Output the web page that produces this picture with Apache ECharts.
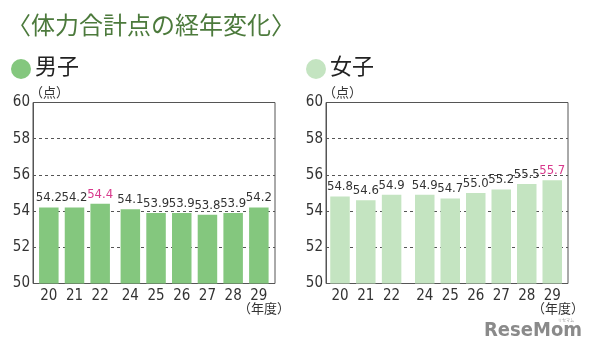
<!DOCTYPE html>
<html><head><meta charset="utf-8">
<script src="https://cdn.jsdelivr.net/npm/echarts@6/dist/echarts.min.js"></script>
<style>html,body{margin:0;padding:0;background:#fff}#c{width:591px;height:353px}</style>
</head><body><div id="c"></div>
<script>
const yearsA = ['20','21','22'];
const yearsB = ['24','25','26','27','28','29'];
const boysA = [54.2, 54.2, 54.4];
const boysB = [54.1, 53.9, 53.9, 53.8, 53.9, 54.2];
const girlsA = [54.8, 54.6, 54.9];
const girlsB = [54.9, 54.7, 55.0, 55.2, 55.5, 55.7];
const highlightBoys = '22';
const highlightGirls = '29';
const yTicks = [50, 52, 54, 56, 58, 60];

const FONT = "'DejaVu Sans Condensed','Liberation Sans',sans-serif";
const CJK = "'Noto Sans CJK JP',sans-serif";
const BOY = '#84c77e', GIRL = '#c4e4c1', PINK = '#d8398c', TXT = '#333';

const chart = echarts.init(document.getElementById('c'));
const gTop = 102.5, gH = 181;
const panels = [
  {main:[33,242], a:[36,77], b:[117.5,154.2], cats:[yearsA,yearsB], vals:[boysA,boysB], color:BOY, hl:highlightBoys},
  {main:[326,242], a:[327.1,77.4], b:[412,153], cats:[yearsA,yearsB], vals:[girlsA,girlsB], color:GIRL, hl:highlightGirls}
];
const grid=[], xAxis=[], yAxis=[], series=[];
panels.forEach((p,pi)=>{
  const gi = grid.length;
  grid.push({left:p.main[0], width:p.main[1], top:gTop, height:gH, show:true, borderColor:'#555', borderWidth:1, backgroundColor:'transparent'});
  xAxis.push({gridIndex:gi, type:'category', data:[''], show:false});
  yAxis.push({gridIndex:gi, type:'value', min:yTicks[0], max:yTicks[yTicks.length-1], interval:2,
    axisLine:{show:true, lineStyle:{color:'#555'}}, axisTick:{show:false},
    axisLabel:{fontSize:15, color:TXT, fontFamily:FONT, margin:3},
    splitLine:{show:true, lineStyle:{color:'#555', type:[3,3], width:1}}});
  series.push({type:'bar', xAxisIndex:gi, yAxisIndex:gi, data:[], silent:true});
  [p.a, p.b].forEach((g,k)=>{
    const idx = grid.length;
    grid.push({left:g[0], width:g[1], top:gTop, height:gH});
    xAxis.push({gridIndex:idx, type:'category', data:p.cats[k], axisLine:{show:false}, axisTick:{show:false},
      axisLabel:{fontSize:15, color:TXT, fontFamily:FONT, margin:5}});
    yAxis.push({gridIndex:idx, type:'value', min:50, max:60, show:false, splitLine:{show:false}});
    series.push({type:'bar', xAxisIndex:idx, yAxisIndex:idx, barWidth:19.5, z:3,
      itemStyle:{color:p.color},
      data:p.vals[k].map((v,i)=>({value:v, label:{color: p.cats[k][i]===p.hl ? PINK : TXT}})),
      label:{show:true, position:'top', distance:3, fontSize:13, fontFamily:FONT, formatter:(d)=>d.value.toFixed(1)}});
  });
});

chart.setOption({
  animation:false,
  grid, xAxis, yAxis, series,
  graphic:[
    {type:'text', left:7, top:13, style:{text:'〈体力合計点の経年変化〉', fontSize:24, fill:'#4c7a3c', fontFamily:CJK}},
    {type:'circle', shape:{cx:21, cy:69, r:10}, style:{fill:BOY}},
    {type:'text', left:35, top:55, style:{text:'男子', fontSize:22, fill:'#222', fontFamily:CJK}},
    {type:'circle', shape:{cx:316, cy:69, r:10}, style:{fill:GIRL}},
    {type:'text', left:330, top:55, style:{text:'女子', fontSize:22, fill:'#222', fontFamily:CJK}},
    {type:'text', left:30, top:86, style:{text:'（点）', fontSize:13, fill:TXT, fontFamily:CJK}},
    {type:'text', left:323, top:86, style:{text:'（点）', fontSize:13, fill:TXT, fontFamily:CJK}},
    {type:'text', left:238, top:302, style:{text:'（年度）', fontSize:13, fill:TXT, fontFamily:CJK}},
    {type:'text', left:532, top:302, style:{text:'（年度）', fontSize:13, fill:TXT, fontFamily:CJK}},
    {type:'text', left:484, top:321, style:{text:'ReseMom', fontSize:20, fontWeight:'bold', fill:'#8a8a8a', fontFamily:"'DejaVu Sans Condensed',sans-serif"}},
    {type:'text', left:558, top:318, style:{text:'リセマム', fontSize:4, fill:'#999', fontFamily:CJK}}
  ]
});
</script></body></html>
